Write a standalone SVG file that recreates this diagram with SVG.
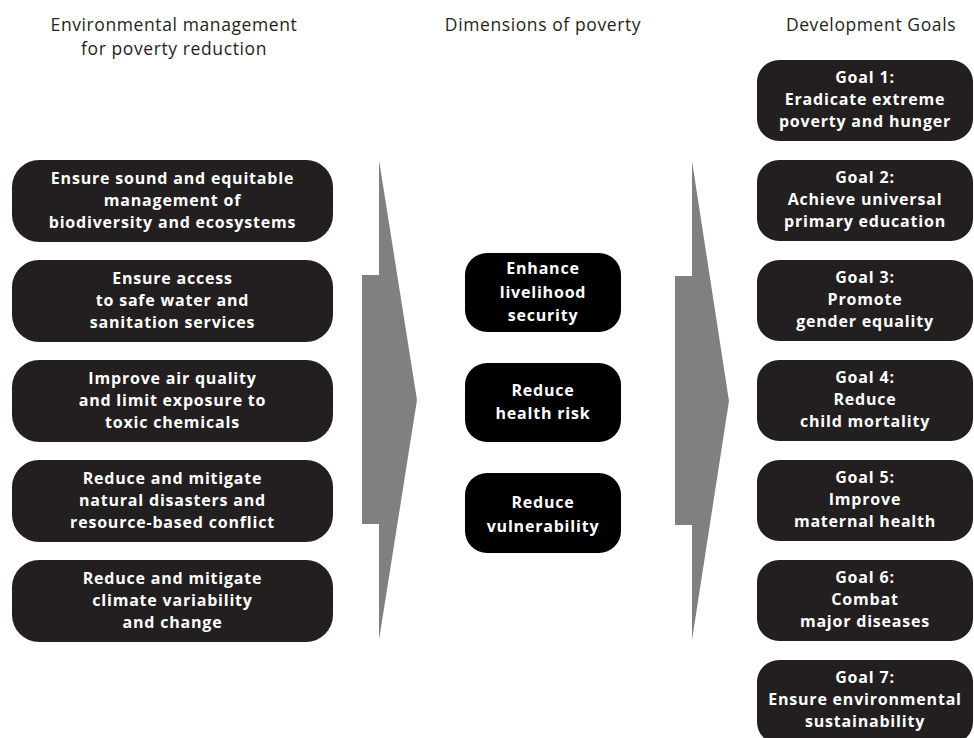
<svg xmlns="http://www.w3.org/2000/svg" width="974" height="738" viewBox="0 0 974 738">
<style>
.hdr{font-family:"Open Sans","Liberation Sans",sans-serif;font-size:17.5px;letter-spacing:0.6px;fill:#231f20;text-anchor:middle}
.lbox{fill:#231f20}
.mbox{fill:#000}
.t{font-family:"Open Sans","Liberation Sans",sans-serif;font-size:16px;letter-spacing:0.8px;font-weight:700;fill:#fff;text-anchor:middle}
.arrow{fill:#808080}
</style>
<rect width="974" height="738" fill="#fff"/>
<g id="headers">
<text class="hdr" x="174" y="31">Environmental management</text>
<text class="hdr" x="174" y="55">for poverty reduction</text>
<text class="hdr" x="543" y="31">Dimensions of poverty</text>
<text class="hdr" x="871" y="31">Development Goals</text>
</g>
<g id="connectors">
<polygon class="arrow" points="379,160 417,400 379,640 379,524 362,524 362,275 379,275"/>
<polygon class="arrow" points="692,161 729,401 692,640 692,525 675,525 675,276 692,276"/>
</g>
<g id="env1"><rect class="lbox" x="12" y="160" width="321" height="82" rx="27"/>
<text class="t" x="172.5" y="184">Ensure sound and equitable</text><text class="t" x="172.5" y="206">management of</text><text class="t" x="172.5" y="228">biodiversity and ecosystems</text></g>
<g id="env2"><rect class="lbox" x="12" y="260" width="321" height="82" rx="27"/>
<text class="t" x="172.5" y="284">Ensure access</text><text class="t" x="172.5" y="306">to safe water and</text><text class="t" x="172.5" y="328">sanitation services</text></g>
<g id="env3"><rect class="lbox" x="12" y="360" width="321" height="82" rx="27"/>
<text class="t" x="172.5" y="384">Improve air quality</text><text class="t" x="172.5" y="406">and limit exposure to</text><text class="t" x="172.5" y="428">toxic chemicals</text></g>
<g id="env4"><rect class="lbox" x="12" y="460" width="321" height="82" rx="27"/>
<text class="t" x="172.5" y="484">Reduce and mitigate</text><text class="t" x="172.5" y="506">natural disasters and</text><text class="t" x="172.5" y="528">resource-based conflict</text></g>
<g id="env5"><rect class="lbox" x="12" y="560" width="321" height="82" rx="27"/>
<text class="t" x="172.5" y="584">Reduce and mitigate</text><text class="t" x="172.5" y="606">climate variability</text><text class="t" x="172.5" y="628">and change</text></g>
<g id="dim1"><rect class="mbox" x="465" y="253" width="156" height="79" rx="22"/>
<text class="t" x="543" y="274">Enhance</text><text class="t" x="543" y="298">livelihood</text><text class="t" x="543" y="321">security</text></g>
<g id="dim2"><rect class="mbox" x="465" y="363" width="156" height="79" rx="22"/>
<text class="t" x="543" y="396">Reduce</text><text class="t" x="543" y="419">health risk</text></g>
<g id="dim3"><rect class="mbox" x="465" y="473" width="156" height="80" rx="22"/>
<text class="t" x="543" y="508">Reduce</text><text class="t" x="543" y="532">vulnerability</text></g>
<g id="goal1"><rect class="lbox" x="757" y="60" width="216" height="81" rx="22"/>
<text class="t" x="865" y="83">Goal 1:</text><text class="t" x="865" y="105">Eradicate extreme</text><text class="t" x="865" y="127">poverty and hunger</text></g>
<g id="goal2"><rect class="lbox" x="757" y="160" width="216" height="81" rx="22"/>
<text class="t" x="865" y="183">Goal 2:</text><text class="t" x="865" y="205">Achieve universal</text><text class="t" x="865" y="227">primary education</text></g>
<g id="goal3"><rect class="lbox" x="757" y="260" width="216" height="81" rx="22"/>
<text class="t" x="865" y="283">Goal 3:</text><text class="t" x="865" y="305">Promote</text><text class="t" x="865" y="327">gender equality</text></g>
<g id="goal4"><rect class="lbox" x="757" y="360" width="216" height="81" rx="22"/>
<text class="t" x="865" y="383">Goal 4:</text><text class="t" x="865" y="405">Reduce</text><text class="t" x="865" y="427">child mortality</text></g>
<g id="goal5"><rect class="lbox" x="757" y="460" width="216" height="81" rx="22"/>
<text class="t" x="865" y="483">Goal 5:</text><text class="t" x="865" y="505">Improve</text><text class="t" x="865" y="527">maternal health</text></g>
<g id="goal6"><rect class="lbox" x="757" y="560" width="216" height="81" rx="22"/>
<text class="t" x="865" y="583">Goal 6:</text><text class="t" x="865" y="605">Combat</text><text class="t" x="865" y="627">major diseases</text></g>
<g id="goal7"><rect class="lbox" x="757" y="660" width="216" height="84" rx="22"/>
<text class="t" x="865" y="683">Goal 7:</text><text class="t" x="865" y="705">Ensure environmental</text><text class="t" x="865" y="727">sustainability</text></g>
</svg>
